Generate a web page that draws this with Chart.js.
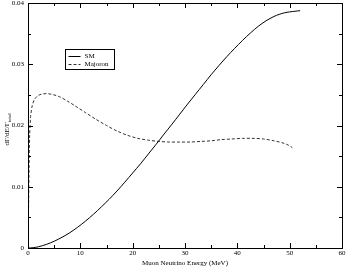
<!DOCTYPE html>
<html>
<head>
<meta charset="utf-8">
<script src="https://cdn.jsdelivr.net/npm/chart.js@4/dist/chart.umd.min.js"></script>
<style>
html,body{margin:0;padding:0;background:#fff;}
#wrap{width:346px;height:267px;}
</style>
</head>
<body>
<div id="wrap"><canvas id="c" width="346" height="267"></canvas></div>
<script>
const smEnergy = [0, 1, 2, 3.5, 5, 6.5, 8, 9.5, 11, 12.5, 14, 15.5, 17, 18.5, 20, 21.5, 23, 24.5, 26, 27.5, 29, 30.5, 32, 33.5, 35, 36.5, 38, 39.5, 41, 42.5, 44, 45.5, 47, 48, 49, 50, 51, 52];
const smValues = [0, 0.00005, 0.00020, 0.00058, 0.00110, 0.00175, 0.00250, 0.00340, 0.00440, 0.00550, 0.00670, 0.00795, 0.00930, 0.01075, 0.01225, 0.01375, 0.01535, 0.01695, 0.01860, 0.02020, 0.02185, 0.02350, 0.02510, 0.02670, 0.02830, 0.02980, 0.03125, 0.03260, 0.03390, 0.03510, 0.03620, 0.03710, 0.03780, 0.03815, 0.03840, 0.03855, 0.03865, 0.03875];
const majEnergy = [0, 0.1, 0.2, 0.3, 0.5, 0.8, 1.2, 1.8, 2.5, 3.5, 4.5, 6, 7.5, 9, 11, 13, 15, 17, 19, 21, 23, 25, 27, 29, 31, 33, 35, 37, 39, 41, 43, 45, 47, 48.5, 49.5, 50.5];
const majValues = [0, 0.0060, 0.0130, 0.0180, 0.0215, 0.0232, 0.0242, 0.0248, 0.0251, 0.0252, 0.0251, 0.0247, 0.0240, 0.0232, 0.0221, 0.0210, 0.0200, 0.0191, 0.0184, 0.0179, 0.0176, 0.0174, 0.0173, 0.0173, 0.0173, 0.0174, 0.0175, 0.0177, 0.0178, 0.0179, 0.0179, 0.0178, 0.0175, 0.0172, 0.0169, 0.0164];
const seriesNames = ["SM", "Majoron"];
const xTickValues = [0, 10, 20, 30, 40, 50, 60];
const yTickValues = [0, 0.01, 0.02, 0.03, 0.04];
const xMinorValues = [5, 15, 25, 35, 45, 55];
const yMinorValues = [0.005, 0.015, 0.025, 0.035];
const xTitle = "Muon Neutrino Energy (MeV)";
const yTitleMain = "dΓ/dE/Γ";
const yTitleSub = "total";

const FONT = "'Liberation Serif', 'Times New Roman', serif";

function pts(xs, ys){ return xs.map((x,i)=>({x:x, y:ys[i]})); }

const framePlugin = {
  id: 'frame',
  afterDraw(chart){
    const ctx = chart.ctx, a = chart.chartArea;
    const xs = chart.scales.x, ys = chart.scales.y;
    ctx.save();
    ctx.strokeStyle = '#000';
    ctx.lineWidth = 1;
    ctx.strokeRect(Math.round(a.left)+0.5, Math.round(a.top)+0.5, Math.round(a.right-a.left), Math.round(a.bottom-a.top));
    ctx.beginPath();
    const tick = (v, len, isX) => {
      if (isX) {
        const p = Math.round(xs.getPixelForValue(v))+0.5;
        ctx.moveTo(p, a.bottom); ctx.lineTo(p, a.bottom-len);
        ctx.moveTo(p, a.top); ctx.lineTo(p, a.top+len);
      } else {
        const p = Math.round(ys.getPixelForValue(v))+0.5;
        ctx.moveTo(a.left, p); ctx.lineTo(a.left+len, p);
        ctx.moveTo(a.right, p); ctx.lineTo(a.right-len, p);
      }
    };
    xTickValues.forEach(v=>tick(v,5,true));
    xMinorValues.forEach(v=>tick(v,3,true));
    yTickValues.forEach(v=>tick(v,5,false));
    yMinorValues.forEach(v=>tick(v,3,false));
    ctx.stroke();

    // y title
    ctx.fillStyle = '#000';
    ctx.translate(9, (a.top+a.bottom)/2 + 4);
    ctx.rotate(-Math.PI/2);
    ctx.font = "7px " + FONT;
    const w1 = ctx.measureText(yTitleMain).width;
    ctx.font = "5px " + FONT;
    const w2 = ctx.measureText(yTitleSub).width;
    const start = -(w1+w2)/2;
    ctx.textBaseline = 'alphabetic';
    ctx.textAlign = 'left';
    ctx.font = "7px " + FONT;
    ctx.fillText(yTitleMain, start, 0);
    ctx.font = "5px " + FONT;
    ctx.fillText(yTitleSub, start+w1, 2);
    ctx.restore();

    // legend
    ctx.save();
    const lx = 65.5, ly = 49.5, lw = 49, lh = 20;
    ctx.strokeStyle = '#000';
    ctx.lineWidth = 1;
    ctx.strokeRect(lx, ly, lw, lh);
    ctx.font = "7px " + FONT;
    ctx.fillStyle = '#000';
    ctx.textBaseline = 'middle';
    chart.data.datasets.forEach((ds, i) => {
      const yy = ly + 6 + i*8;
      ctx.beginPath();
      ctx.setLineDash(ds.borderDash || []);
      ctx.lineWidth = 1;
      ctx.strokeStyle = ds.borderColor;
      ctx.moveTo(lx+3, Math.round(yy)+0.5);
      ctx.lineTo(lx+15, Math.round(yy)+0.5);
      ctx.stroke();
      ctx.setLineDash([]);
      ctx.fillText(ds.label, lx+19, yy+0.5);
    });
    ctx.restore();
  }
};

new Chart(document.getElementById('c'), {
  type: 'scatter',
  data: {
    datasets: [
      { label: seriesNames[0], data: pts(smEnergy, smValues), showLine: true, borderColor: '#000', borderWidth: 1, pointRadius: 0, tension: 0.3, fill: false },
      { label: seriesNames[1], data: pts(majEnergy, majValues), showLine: true, borderColor: '#333', borderWidth: 1, borderDash: [3,2], pointRadius: 0, tension: 0.3, fill: false }
    ]
  },
  options: {
    responsive: false,
    animation: false,
    devicePixelRatio: 1,
    layout: { padding: { left: 0, right: 4, top: 3, bottom: 0 } },
    plugins: { legend: { display: false }, tooltip: { enabled: false } },
    scales: {
      x: {
        type: 'linear', min: 0, max: 60,
        afterBuildTicks: s => { s.ticks = xTickValues.map(v=>({value:v})); },
        ticks: { color: '#000', font: { family: FONT, size: 7 }, padding: 1, maxRotation: 0, callback: v => String(v) },
        grid: { display: false, drawTicks: false },
        border: { display: false },
        title: { display: true, text: xTitle, color: '#000', font: { family: FONT, size: 7 }, padding: { top: 0, bottom: 0 } },
        afterFit: s => { s.height = 19; s.paddingLeft = 0; s.paddingRight = 0; }
      },
      y: {
        type: 'linear', min: 0, max: 0.04,
        afterBuildTicks: s => { s.ticks = yTickValues.map(v=>({value:v})); },
        ticks: { color: '#000', font: { family: FONT, size: 7 }, padding: 4, callback: v => (v === 0 ? '0' : String(Math.round(v*100)/100)) },
        grid: { display: false, drawTicks: false },
        border: { display: false },
        afterFit: s => { s.width = 28; s.paddingTop = 0; s.paddingBottom = 0; }
      }
    }
  },
  plugins: [framePlugin]
});
</script>
</body>
</html>
